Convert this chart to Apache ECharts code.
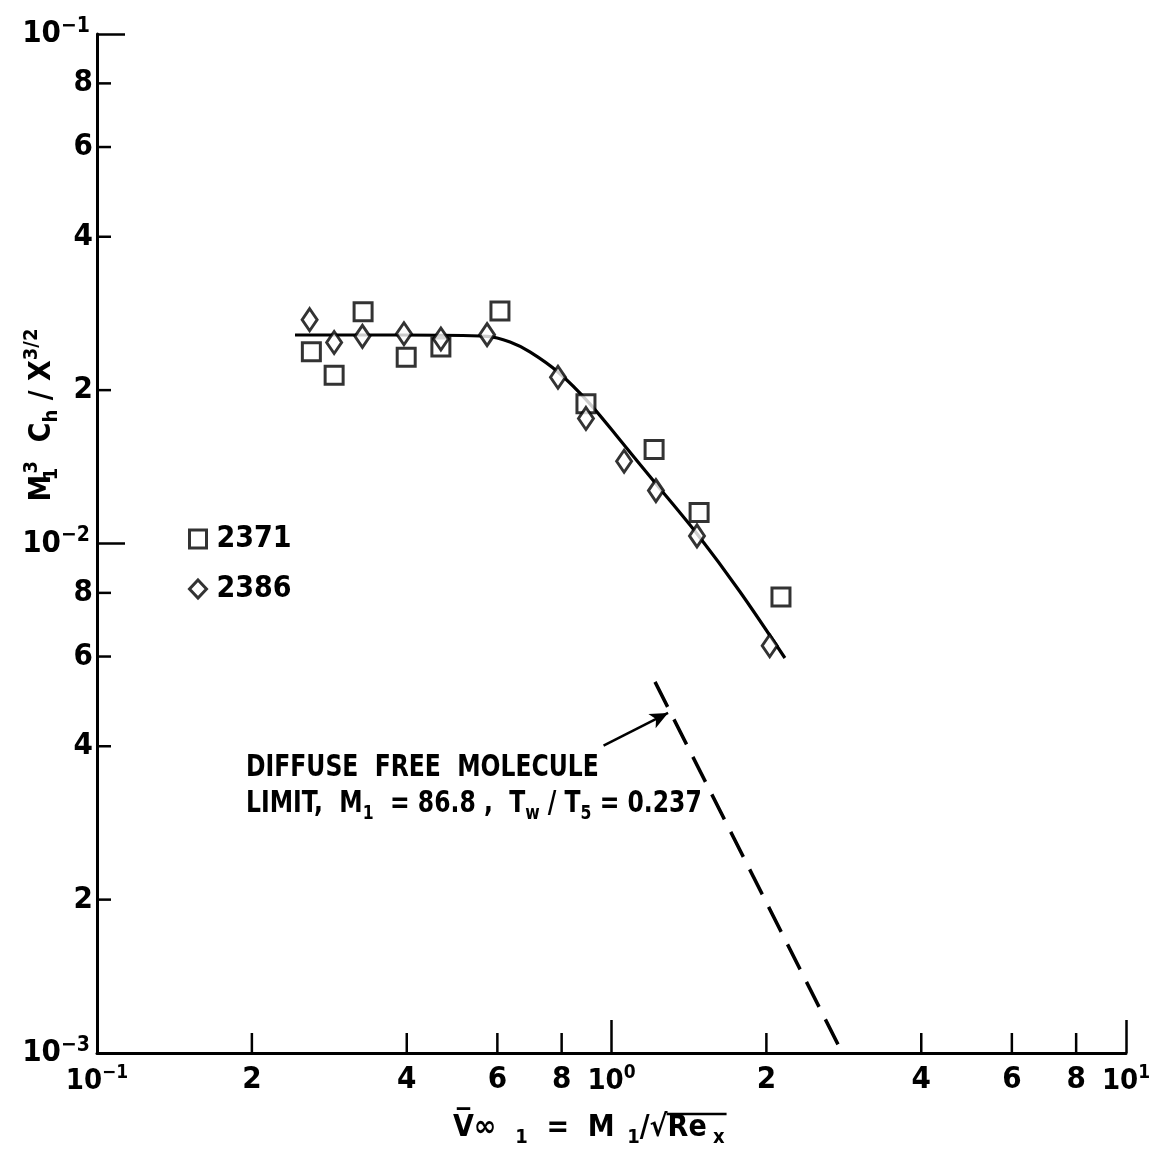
<!DOCTYPE html>
<html lang="en">
  <head>
    <meta charset="UTF-8" />
    <title>Heat transfer parameter vs rarefaction parameter</title>
    <script src="https://cdn.jsdelivr.net/npm/echarts@6.0.0/dist/echarts.min.js"></script>
    <style>
      html, body { margin: 0; background: #fff; }
    </style>
  </head>
  <body>
    <div id="main" style="width: 1150px; height: 1154px"></div>
    <script type="text/javascript">
      const FONT = "'DejaVu Sans Condensed', 'Liberation Sans Narrow', 'DejaVu Sans', sans-serif";
      const WEIGHT = 'bold';

      // run 2371 (open squares)
      const run2371X = [0.261, 0.289, 0.329, 0.399, 0.466, 0.607, 0.892, 1.21, 1.48, 2.135];
      const run2371Y = [0.0238, 0.0214, 0.0285, 0.0232, 0.0243, 0.0286, 0.0188, 0.0153, 0.0115, 0.00785];

      // run 2386 (open diamonds)
      const run2386X = [0.259, 0.289, 0.328, 0.395, 0.466, 0.573, 0.787, 0.892, 1.058, 1.22, 1.466, 2.03];
      const run2386Y = [0.0275, 0.0248, 0.0255, 0.0258, 0.0252, 0.0257, 0.0212, 0.0176, 0.0145, 0.0127, 0.01035, 0.0063];

      // faired curve
      const fairX = [0.2426, 0.388, 0.573, 0.635, 0.694, 0.787, 0.908, 1.039, 1.22, 1.466, 1.777, 2.173];
      const fairY = [0.02566, 0.02566, 0.0255, 0.02486, 0.02377, 0.0217, 0.0188, 0.01596, 0.0131, 0.01045, 0.00804, 0.00596];

      // diffuse free molecule limit
      const limitX = [1.215, 2.81];
      const limitY = [0.00535, 0.001];
      const arrowFrom = [0.965, 0.00401];
      const arrowTo = [1.288, 0.00465];

      // axes
      const xMin = 0.1, xMax = 10;
      const yMin = 0.001, yMax = 0.1;
      const xMinorTicks = [0.2, 0.4, 0.6, 0.8, 2, 4, 6, 8];
      const xMinorLabels = ['2', '4', '6', '8', '2', '4', '6', '8'];
      const yMinorTicks = [0.002, 0.004, 0.006, 0.008, 0.02, 0.04, 0.06, 0.08];
      const yMinorLabels = ['2', '4', '6', '8', '2', '4', '6', '8'];

      const zip = (xs, ys) => xs.map((x, i) => [x, ys[i]]);

      const powRich = (big, small) => ({
        b: { fontFamily: FONT, fontWeight: WEIGHT, fontSize: big, color: '#000', lineHeight: big + 5 },
        s: { fontFamily: FONT, fontWeight: WEIGHT, fontSize: small, color: '#000', verticalAlign: 'top', lineHeight: small }
      });
      const decadeLabel = (v) => '{b|10}{s|' + Math.round(Math.log10(v)).toString().replace('-', '\u2212') + '}';

      const textRich = {
        n: { fontFamily: FONT, fontWeight: WEIGHT, fontSize: 30, color: '#000', lineHeight: 40 },
        sub: { fontFamily: FONT, fontWeight: WEIGHT, fontSize: 20, color: '#000', verticalAlign: 'bottom', lineHeight: 25 },
        sup: { fontFamily: FONT, fontWeight: WEIGHT, fontSize: 20, color: '#000', verticalAlign: 'top', lineHeight: 20 },
        sub0: { fontFamily: FONT, fontWeight: WEIGHT, fontSize: 20, color: '#000', verticalAlign: 'bottom', lineHeight: 25, width: 1 }
      };

      // text widths, to place the root bar of the x title
      const ctx = document.createElement('canvas').getContext('2d');
      const textWidth = (s, size) => {
        ctx.font = WEIGHT + ' ' + size + 'px ' + FONT;
        return ctx.measureText(s).width;
      };
      const xTitleLeft = 453;
      const xTitleY = 1128;
      const rootStart = xTitleLeft + textWidth('V\u0305\u221e', 30) + textWidth('   1', 20) +
        textWidth('  =  M', 30) + textWidth('  1', 20) + textWidth('/\u221a', 30);
      const rootEnd = rootStart + textWidth('Re', 30) + textWidth(' x', 20);

      function xTick(params, api) {
        const p = api.coord([api.value(0), api.value(1)]);
        return {
          type: 'group',
          children: [
            { type: 'line', shape: { x1: p[0], y1: p[1], x2: p[0], y2: p[1] - 20 },
              style: { stroke: '#000', lineWidth: 2.5 } },
            { type: 'text', x: p[0], y: p[1] + 11,
              style: { text: xMinorLabels[params.dataIndex], fontFamily: FONT, fontWeight: WEIGHT,
                       fontSize: 31, fill: '#000', align: 'center', verticalAlign: 'top' } }
          ]
        };
      }

      function yTick(params, api) {
        const p = api.coord([api.value(0), api.value(1)]);
        return {
          type: 'group',
          children: [
            { type: 'line', shape: { x1: p[0], y1: p[1], x2: p[0] + 14, y2: p[1] },
              style: { stroke: '#000', lineWidth: 2.5 } },
            { type: 'text', x: p[0] - 4, y: p[1],
              style: { text: yMinorLabels[params.dataIndex], fontFamily: FONT, fontWeight: WEIGHT,
                       fontSize: 31, fill: '#000', align: 'right', verticalAlign: 'middle' } }
          ]
        };
      }

      const chart = echarts.init(document.getElementById('main'));

      const option = {
        backgroundColor: '#fff',
        animation: false,
        grid: { left: 97, right: 24, top: 34, bottom: 101, containLabel: false, outerBoundsMode: 'none' },
        legend: {
          orient: 'vertical',
          left: 183,
          top: 519,
          itemWidth: 17,
          itemHeight: 18,
          itemGap: 20,
          data: ['2371', '2386'],
          textStyle: { fontFamily: FONT, fontWeight: WEIGHT, fontSize: 30, color: '#000', padding: [0, 0, 0, 5] },
          itemStyle: { borderWidth: 3 }
        },
        xAxis: {
          type: 'log',
          logBase: 10,
          min: xMin,
          max: xMax,
          axisLine: { show: true, onZero: false, lineStyle: { color: '#000', width: 3 } },
          axisTick: { show: true, inside: true, length: 33, lineStyle: { color: '#000', width: 2.5 } },
          axisLabel: { margin: 11, showMinLabel: true, showMaxLabel: true, formatter: decadeLabel,
                       rich: powRich(29, 19), hideOverlap: false },
          splitLine: { show: false }
        },
        yAxis: {
          type: 'log',
          logBase: 10,
          min: yMin,
          max: yMax,
          axisLine: { show: true, onZero: false, lineStyle: { color: '#000', width: 3 } },
          axisTick: { show: true, inside: true, length: 28, lineStyle: { color: '#000', width: 2.5 } },
          axisLabel: { margin: 7, showMinLabel: true, showMaxLabel: true, formatter: decadeLabel,
                       rich: powRich(31, 21), hideOverlap: false },
          splitLine: { show: false }
        },
        graphic: [
          {
            type: 'text',
            x: 42,
            y: 415,
            rotation: Math.PI / 2,
            style: {
              text: '{n|M}{sub0|1}{sup|3}{n|  C}{sub|h}{n| / X}{sup|3/2}',
              rich: textRich,
              align: 'center',
              verticalAlign: 'middle'
            }
          },
          {
            type: 'text',
            x: xTitleLeft,
            y: xTitleY,
            style: {
              text: '{n|V\u0305\u221e}{sub|   1}{n|  =  M}{sub|  1}{n|/\u221aRe}{sub| x}',
              rich: textRich,
              align: 'left',
              verticalAlign: 'middle'
            }
          },
          {
            type: 'line',
            shape: { x1: rootStart - 1, y1: xTitleY - 14, x2: rootEnd + 2, y2: xTitleY - 14 },
            style: { stroke: '#000', lineWidth: 2.5 }
          },
          {
            type: 'text',
            x: 246,
            y: 768,
            scaleX: 0.87,
            style: {
              text: '{n|DIFFUSE  FREE  MOLECULE}',
              rich: textRich,
              align: 'left',
              verticalAlign: 'middle'
            }
          },
          {
            type: 'text',
            x: 246,
            y: 804,
            scaleX: 0.87,
            style: {
              text: '{n|LIMIT,  M}{sub|1}{n|  = 86.8 ,  T}{sub|w}{n| / T}{sub|5}{n| = 0.237}',
              rich: textRich,
              align: 'left',
              verticalAlign: 'middle'
            }
          }
        ],
        series: [
          {
            name: '2371',
            type: 'scatter',
            symbol: 'rect',
            symbolSize: 18,
            itemStyle: { color: '#fff', borderColor: '#000', borderWidth: 3 },
            data: zip(run2371X, run2371Y),
            z: 3
          },
          {
            name: '2386',
            type: 'scatter',
            symbol: 'diamond',
            symbolSize: [15, 22],
            itemStyle: { color: '#fff', borderColor: '#000', borderWidth: 3 },
            data: zip(run2386X, run2386Y),
            z: 4
          },
          {
            name: 'fair',
            type: 'line',
            smooth: 0.3,
            symbol: 'none',
            lineStyle: { color: '#000', width: 3.2 },
            data: zip(fairX, fairY),
            z: 2
          },
          {
            name: 'limit',
            type: 'line',
            symbol: 'none',
            lineStyle: { color: '#000', width: 3.5, type: [28, 14] },
            data: zip(limitX, limitY),
            markLine: {
              silent: true,
              symbol: ['none', 'arrow'],
              symbolSize: [12, 18],
              label: { show: false },
              lineStyle: { color: '#000', width: 2.5, type: 'solid' },
              data: [[{ coord: arrowFrom }, { coord: arrowTo }]]
            }
          },
          {
            type: 'custom',
            silent: true,
            clip: false,
            renderItem: xTick,
            data: xMinorTicks.map((v) => [v, yMin]),
            z: 5
          },
          {
            type: 'custom',
            silent: true,
            clip: false,
            renderItem: yTick,
            data: yMinorTicks.map((v) => [xMin, v]),
            z: 5
          }
        ]
      };

      chart.setOption(option);
    </script>
  </body>
</html>
